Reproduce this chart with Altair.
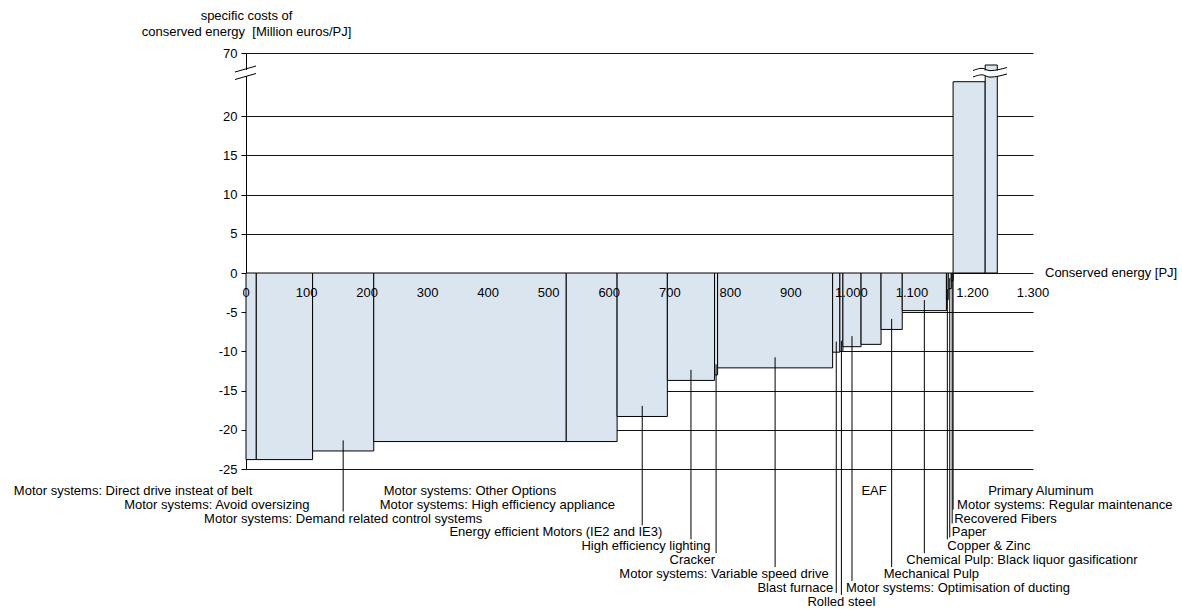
import altair as alt
import pandas as pd

# ---------------- data ----------------
measures = [
    "Motor systems: Direct drive insteat of belt",
    "Motor systems: Avoid oversizing",
    "Motor systems: Demand related control systems",
    "Motor systems: Other Options",
    "Motor systems: High efficiency appliance",
    "Energy efficient Motors (IE2 and IE3)",
    "High efficiency lighting",
    "Cracker",
    "Motor systems: Variable speed drive",
    "Blast furnace",
    "Rolled steel",
    "Motor systems: Optimisation of ducting",
    "EAF",
    "Mechanical Pulp",
    "Chemical Pulp: Black liquor gasificationr",
    "Copper & Zinc",
    "Paper",
    "Recovered Fibers",
    "Motor systems: Regular maintenance",
    "Primary Aluminum",
]
energy = [17, 93, 101, 318, 84, 83, 78, 5, 190, 12, 5, 30, 33, 35, 73, 3, 5, 3, 53, 20]
costs = [-23.8, -23.8, -22.7, -21.5, -21.5, -18.3, -13.7, -13.0, -12.1, -10.1,
         -10.0, -9.4, -9.1, -7.2, -4.8, -3.4, -2.0, -1.0, 24.4, 47.5]

x_tick_values = list(range(0, 1301, 100))
y_tick_values = [-25, -20, -15, -10, -5, 0, 5, 10, 15, 20, 70]

# ---------------- layout (label placement, not data) ----------------
# (row, text anchor on bar, dx in px, align, leader mode, leader anchor)
label_layout = [
    (0, "end", -4, "right", None, None),
    (1, "end", -3, "right", None, None),
    (2, "mid", 0, "center", "below", "mid"),
    (0, "mid", 0, "center", None, None),
    (1, "end", -2, "right", None, None),
    (3, "end", -5, "right", "below", "mid"),
    (4, "end", -4, "right", "below", "mid"),
    (5, "mid", -1, "right", "below", "mid"),
    (6, "end", -4, "right", "below", "mid"),
    (7, "mid", -3, "right", "beside", "mid"),
    (8, "mid", 0, "center", "below", "mid"),
    (7, "mid", -6, "left", "below", "mid"),
    (0, "mid", 3, "center", None, None),
    (6, "mid", -8, "left", "below", "mid"),
    (5, "mid", -18, "left", "below", "mid"),
    (4, "mid", 0, "left", "below", "mid"),
    (3, "mid", 2, "left", "beside", "mid"),
    (2, "mid", 2, "left", "beside", "mid"),
    (1, "start", 4, "left", "beside", "start"),
    (0, "start", 3, "left", None, None),
]

W, H = 787, 416
X_MAX = 1300
PX_PER_E = W / X_MAX
PX_PER_U = 7.84
FONT = "Liberation Sans, Arial, sans-serif"
FS = 13

starts, ends = [], []
acc = 0
for e in energy:
    starts.append(acc)
    acc += e
    ends.append(acc)

bars = pd.DataFrame({"measure": measures, "start": starts, "end": ends, "cost": costs})

ROW0 = -25 - (491 - 469.3) / PX_PER_U
ROW_STEP = 13.9 / PX_PER_U

lab_rows, lead_rows = [], []
for i, (row, anc, dx, align, mode, lanc) in enumerate(label_layout):
    s, e, c = starts[i], ends[i], costs[i]
    pos = {"start": s, "mid": (s + e) / 2, "end": e}
    ty = ROW0 - ROW_STEP * row
    lab_rows.append({"measure": measures[i], "tx": pos[anc] + dx / PX_PER_E, "ty": ty, "align": align})
    if mode:
        top = min(c + 1.35, 0) if c < 0 else 0
        bot = ty + 7 / PX_PER_U if mode == "below" else ty - 5 / PX_PER_U
        lead_rows.append({"lx": pos[lanc], "ltop": top, "lbot": bot})
labels = pd.DataFrame(lab_rows)
leaders = pd.DataFrame(lead_rows)

xticks = pd.DataFrame({"v": x_tick_values,
                       "lab": [f"{v:,}".replace(",", ".") for v in x_tick_values]})

xs = alt.Scale(domain=[0, X_MAX], nice=False, zero=False)
ys = alt.Scale(domain=[-25, 25, 70], range=[H, 24, 0], nice=False, zero=False)

yaxis = alt.Axis(
    values=y_tick_values, labelExpr="toString(datum.value)",
    grid=True, gridColor="#111111", gridWidth=1, gridOpacity=1,
    domainColor="#000000", tickColor="#000000", tickSize=5, labelPadding=4,
    labelFont=FONT, labelFontSize=FS, labelColor="#000000",
    title=["specific costs of", "conserved energy\u00a0\u00a0[Million euros/PJ]"],
    titleAngle=0, titleAlign="center", titleX=0, titleY=-31, titleBaseline="bottom",
    titleFont=FONT, titleFontSize=FS, titleFontWeight="normal", titleColor="#000000",
    titleLineHeight=16,
)


def Y(field):
    return alt.Y(field, type="quantitative", scale=ys, axis=yaxis)


def X(field):
    return alt.X(field, type="quantitative", scale=xs, axis=None)


# helpers to place decorative break marks
def px_to_e(px):
    return (px - 246) / PX_PER_E


def py_to_v(py):
    rel = py - 53
    if rel >= 24:
        return 25 - (rel - 24) / PX_PER_U
    return 25 + (24 - rel) / 24 * 45


bar_layer = alt.Chart(bars).mark_rect(fill="#dbe5f0", stroke="#000000", strokeWidth=1).encode(
    x=X("start"), x2="end", y=Y("cost"), y2=alt.datum(0),
)

leader_layer = alt.Chart(leaders).mark_rule(color="#000000", strokeWidth=1).encode(
    x=X("lx"), y=Y("ltop"), y2="lbot",
)

text_layers = []
for al in ["left", "center", "right"]:
    text_layers.append(
        alt.Chart(labels[labels["align"] == al]).mark_text(
            align=al, baseline="middle", font=FONT, fontSize=FS, color="#000000"
        ).encode(x=X("tx"), y=Y("ty"), text="measure:N")
    )

xtick_layer = alt.Chart(xticks).mark_text(
    align="center", baseline="middle", dy=20, font=FONT, fontSize=FS, color="#000000"
).encode(x=X("v"), y=alt.datum(0), text="lab:N")

xtitle = pd.DataFrame({"x": [X_MAX + 12 / PX_PER_E], "y": [0], "t": ["Conserved energy [PJ]"]})
xtitle_layer = alt.Chart(xtitle).mark_text(
    align="left", baseline="middle", font=FONT, fontSize=FS, color="#000000"
).encode(x=X("x"), y=Y("y"), text="t:N")

# axis break on the y axis
axis_gap = pd.DataFrame({"x": [px_to_e(243)], "x2": [px_to_e(248)],
                         "y": [py_to_v(76)], "y2": [py_to_v(70)]})
axis_gap_layer = alt.Chart(axis_gap).mark_rect(fill="white").encode(
    x=X("x"), x2="x2", y=Y("y"), y2="y2")
axis_break = pd.DataFrame({
    "x": [px_to_e(235), px_to_e(235)], "x2": [px_to_e(256), px_to_e(256)],
    "y": [py_to_v(72), py_to_v(79.5)], "y2": [py_to_v(66), py_to_v(73.5)]})
axis_break_layer = alt.Chart(axis_break).mark_rule(color="#000000", strokeWidth=1).encode(
    x=X("x"), x2="x2", y=Y("y"), y2="y2")

# break on the tall bar
bar_gap = pd.DataFrame({"x": [px_to_e(982)], "x2": [px_to_e(999)],
                        "y": [py_to_v(76)], "y2": [py_to_v(70.5)]})
bar_gap_layer = alt.Chart(bar_gap).mark_rect(fill="white").encode(
    x=X("x"), x2="x2", y=Y("y"), y2="y2")
wave_pts = []
for k, base in enumerate([70.5, 77.0]):
    for px, off in [(973, 0), (982, -2.2), (990, 0.2), (999, -1.0), (1007, -3.0)]:
        wave_pts.append({"w": k, "x": px_to_e(px), "y": py_to_v(base + off)})
wave = pd.DataFrame(wave_pts)
wave_layer = alt.Chart(wave).mark_line(color="#000000", strokeWidth=1, interpolate="monotone").encode(
    x=X("x"), y=Y("y"), detail="w:N")

chart = alt.layer(
    bar_layer, leader_layer, *text_layers, xtick_layer, xtitle_layer,
    axis_gap_layer, axis_break_layer, bar_gap_layer, wave_layer,
).properties(
    width=W, height=H,
    autosize=alt.AutoSizeParams(type="none"),
    padding={"left": 246, "top": 53, "right": 149, "bottom": 140},
    background="white",
).configure_view(stroke=None)

chart.save("out.html", embed_options={"renderer": "svg", "actions": False})
